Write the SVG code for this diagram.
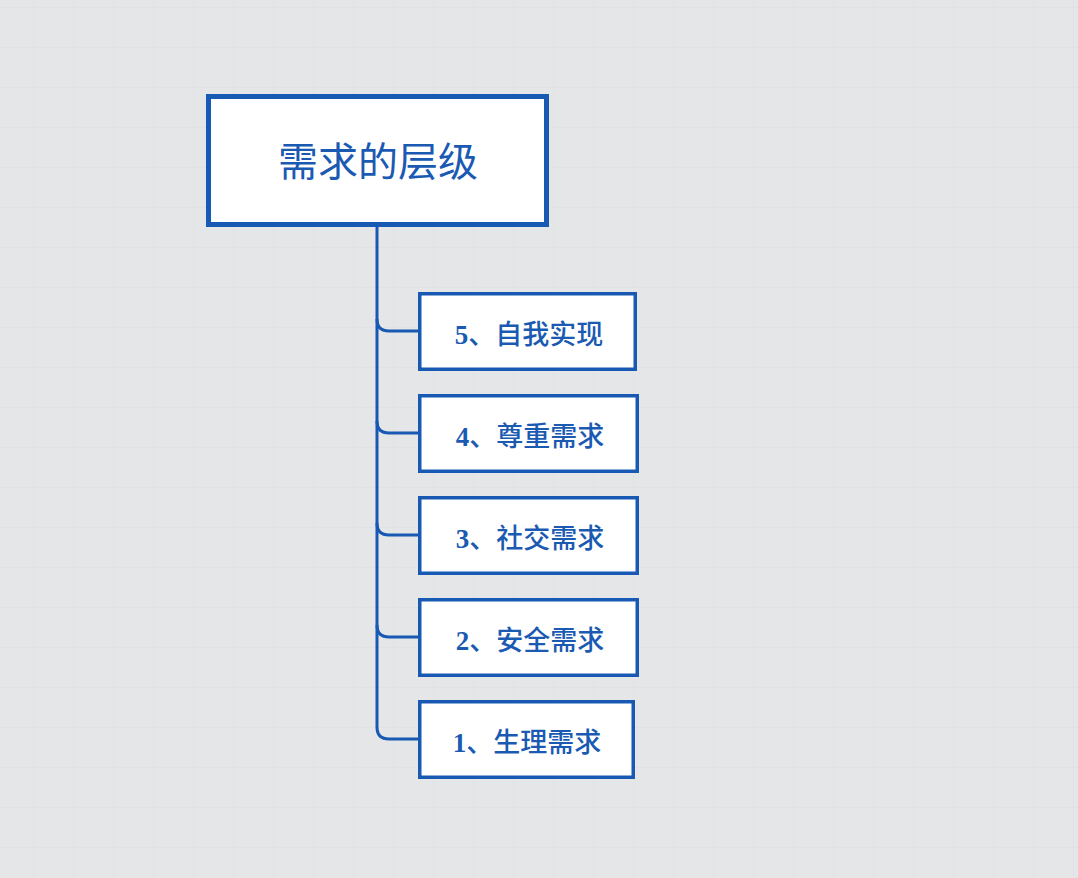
<svg xmlns="http://www.w3.org/2000/svg" width="1078" height="878" viewBox="0 0 1078 878">
<defs>
<pattern id="grid" x="33" y="7" width="40" height="40" patternUnits="userSpaceOnUse">
<path d="M0 0H40M0 0V40" fill="none" stroke="#dcdee1" stroke-width="1"/>
</pattern>
<style>
.box{fill:#ffffff;stroke:#1859b3;}
.root{stroke-width:5;}
.child{stroke-width:3.5;}
.conn{fill:none;stroke:#1859b3;stroke-width:3;}
text{font-family:"Liberation Serif","Noto Sans CJK SC",serif;fill:#1a5ab2;text-anchor:middle;dominant-baseline:central;}
.rt{font-size:40px;}
.ct{font-size:27px;font-weight:500;}
.d{font-weight:bold;}
</style>
</defs>
<rect width="1078" height="878" fill="#e5e6e8"/>
<rect width="1078" height="878" fill="url(#grid)"/>
<g id="connectors">
<path class="conn" d="M377 227V319Q377 331 389 331H420"/>
<path class="conn" d="M377 319V421Q377 433 389 433H420"/>
<path class="conn" d="M377 421V523Q377 535 389 535H420"/>
<path class="conn" d="M377 523V625Q377 637 389 637H420"/>
<path class="conn" d="M377 625V727Q377 739 389 739H420"/>
</g>
<g id="root">
<rect class="box root" x="208.5" y="96.5" width="338" height="128"/>
<text class="rt" x="378" y="162">需求的层级</text>
</g>
<g id="n5">
<rect class="box child" x="419.75" y="293.75" width="215.5" height="75.5"/>
<text class="ct" x="529" y="335"><tspan class="d">5</tspan>、自我实现</text>
</g>
<g id="n4">
<rect class="box child" x="419.75" y="395.75" width="217.5" height="75.5"/>
<text class="ct" x="530" y="437"><tspan class="d">4</tspan>、尊重需求</text>
</g>
<g id="n3">
<rect class="box child" x="419.75" y="497.75" width="217.5" height="75.5"/>
<text class="ct" x="530" y="539"><tspan class="d">3</tspan>、社交需求</text>
</g>
<g id="n2">
<rect class="box child" x="419.75" y="599.75" width="217.5" height="75.5"/>
<text class="ct" x="530" y="641"><tspan class="d">2</tspan>、安全需求</text>
</g>
<g id="n1">
<rect class="box child" x="419.75" y="701.75" width="213.5" height="75.5"/>
<text class="ct" x="527" y="743"><tspan class="d">1</tspan>、生理需求</text>
</g>
</svg>
